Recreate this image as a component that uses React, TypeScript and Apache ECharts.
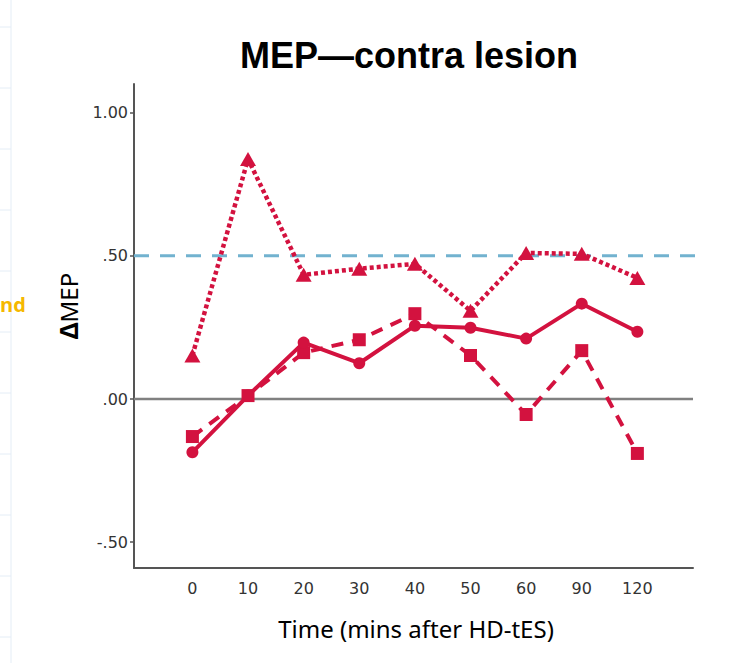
import React, { useEffect, useRef } from "react";
import * as echarts from "echarts";

const timeLabels = ["0", "10", "20", "30", "40", "50", "60", "90", "120"];
const triangleDotted = [0.152, 0.838, 0.434, 0.455, 0.472, 0.308, 0.51, 0.507, 0.423];
const squareDashed = [-0.131, 0.012, 0.162, 0.207, 0.298, 0.152, -0.054, 0.169, -0.19];
const circleSolid = [-0.186, 0.012, 0.197, 0.125, 0.256, 0.249, 0.211, 0.333, 0.235];
const yTickValues = [-0.5, 0, 0.5, 1];
const yTickLabels = ["-.50", ".00", ".50", "1.00"];
const referenceLevel = 0.5;
const zeroLevel = 0;

const RED = "#D3123F";

export default function App() {
  const ref = useRef<HTMLDivElement>(null);
  useEffect(() => {
    if (!ref.current) return;
    const chart = echarts.init(ref.current, null, { renderer: "svg" });
    const xMin = -1.05;
    const xMax = 9;
    const toPts = (arr: number[]) => arr.map((v, i) => [i, v]);
    const faintLines: any[] = [];
    for (let k = 0; k < 11; k++) {
      faintLines.push({
        type: "line",
        shape: { x1: 0, y1: 27 + k * 61, x2: 11, y2: 27 + k * 61 },
        style: { stroke: "#e4edf6", lineWidth: 1 },
        silent: true,
      });
    }
    chart.setOption({
      animation: false,
      backgroundColor: "#ffffff",
      grid: { left: 134, right: 44, top: 84, bottom: 95 },
      xAxis: {
        type: "value",
        min: xMin,
        max: xMax,
        axisLine: { onZero: false, lineStyle: { color: "#555555", width: 2 } },
        axisTick: { show: false },
        splitLine: { show: false },
        axisLabel: {
          customValues: timeLabels.map((_, i) => i),
          formatter: (v: number) => timeLabels[Math.round(v)] ?? "",
          color: "#333333",
          fontSize: 16,
          fontFamily: "DejaVu Sans",
          margin: 12,
        },
      },
      yAxis: {
        type: "value",
        min: -0.59,
        max: 1.1,
        axisLine: { show: true, onZero: false, lineStyle: { color: "#555555", width: 2 } },
        axisTick: {
          show: true,
          customValues: yTickValues,
          length: 4,
          lineStyle: { color: "#555555", width: 1.5 },
        },
        splitLine: { show: false },
        axisLabel: {
          customValues: yTickValues,
          formatter: (v: number) => {
            const idx = yTickValues.findIndex((t) => Math.abs(t - v) < 1e-6);
            return idx >= 0 ? yTickLabels[idx] : "";
          },
          color: "#333333",
          fontSize: 16,
          fontFamily: "DejaVu Sans",
          margin: 6,
        },
      },
      series: [
        {
          type: "line",
          data: [[xMin, zeroLevel], [xMax, zeroLevel]],
          symbol: "none",
          clip: false,
          silent: true,
          lineStyle: { color: "#808080", width: 2.5 },
          z: 1,
        },
        {
          type: "line",
          data: [[xMin, referenceLevel], [xMax + 0.13, referenceLevel]],
          symbol: "none",
          clip: false,
          silent: true,
          lineStyle: { color: "#72B2CF", width: 3, type: [15, 11] },
          z: 1,
        },
        {
          type: "line",
          data: toPts(triangleDotted),
          symbol: "triangle",
          symbolSize: [16, 14],
          itemStyle: { color: RED },
          lineStyle: { color: RED, width: 4.5, type: [4, 3] },
          z: 3,
        },
        {
          type: "line",
          data: toPts(squareDashed),
          symbol: "rect",
          symbolSize: 13,
          itemStyle: { color: RED },
          lineStyle: { color: RED, width: 4, type: [12, 9] },
          z: 3,
        },
        {
          type: "line",
          data: toPts(circleSolid),
          symbol: "circle",
          symbolSize: 12,
          itemStyle: { color: RED },
          lineStyle: { color: RED, width: 4 },
          z: 4,
        },
      ],
      graphic: [
        ...faintLines,
        {
          type: "line",
          shape: { x1: 11, y1: 0, x2: 11, y2: 663 },
          style: { stroke: "#e4edf6", lineWidth: 1 },
          silent: true,
        },
        {
          type: "text",
          x: 409,
          y: 55,
          style: {
            text: "MEP\u2014contra lesion",
            font: "bold 36px 'Liberation Sans', Arial, sans-serif",
            fill: "#000000",
            align: "center",
            verticalAlign: "middle",
          },
        },
        {
          type: "text",
          x: 68,
          y: 306,
          rotation: Math.PI / 2,
          style: {
            text: "{d|\u0394}{m|MEP}",
            align: "center",
            verticalAlign: "middle",
            rich: {
              d: { font: "bold 25px 'Noto Sans', sans-serif", fill: "#000" },
              m: { font: "24px 'Noto Sans', sans-serif", fill: "#000" },
            },
          },
        },
        {
          type: "text",
          x: 416,
          y: 628,
          style: {
            text: "Time (mins after HD-tES)",
            font: "24px 'Noto Sans', sans-serif",
            fill: "#000000",
            align: "center",
            verticalAlign: "middle",
          },
        },
        {
          type: "text",
          x: 0,
          y: 304,
          style: {
            text: "nd",
            font: "bold 20px 'Open Sans', sans-serif",
            fill: "#F5B800",
            align: "left",
            verticalAlign: "middle",
          },
        },
      ],
    });
    return () => chart.dispose();
  }, []);
  return (
    <div
      ref={ref}
      style={{ position: "fixed", left: 0, top: 0, width: 737, height: 663 }}
    />
  );
}
